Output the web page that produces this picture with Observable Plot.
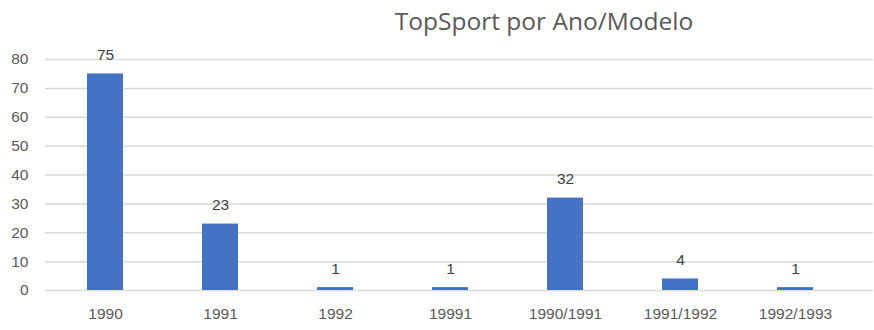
<!DOCTYPE html>
<html>
<head>
<meta charset="utf-8">
<script src="https://cdn.jsdelivr.net/npm/d3@7"></script>
<script src="https://cdn.jsdelivr.net/npm/@observablehq/plot@0.6"></script>
<style>
  html, body { margin: 0; padding: 0; background: #fff; }
  #title { width: 874px; height: 42px; line-height: 42px; box-sizing: border-box; padding-left: 214px;
    text-align: center; font-family: "Open Sans", sans-serif; font-size: 24.5px; color: #595959; }
</style>
</head>
<body>
<div id="title">TopSport por Ano/Modelo</div>
<div id="chart"></div>
<script>
const categories = ["1990", "1991", "1992", "19991", "1990/1991", "1991/1992", "1992/1993"];
const values = [75, 23, 1, 1, 32, 4, 1];
const yTicks = [0, 10, 20, 30, 40, 50, 60, 70, 80];

const data = categories.map((c, i) => ({cat: c, val: values[i]}));

const chart = Plot.plot({
  width: 874,
  height: 288,
  marginTop: 17,
  marginBottom: 40,
  marginLeft: 45,
  marginRight: 1,
  style: {fontFamily: "'Liberation Sans', Arial, sans-serif", fontSize: "15.5px", color: "#595959", background: "#fff"},
  x: {domain: categories, range: [45.2, 854.8], paddingInner: 0.689, paddingOuter: 0.3445, label: null},
  y: {domain: [0, 80], label: null},
  marks: [
    Plot.gridY(yTicks, {stroke: "#d9d9d9", strokeOpacity: 1, strokeWidth: 1.5}),
    Plot.axisY(yTicks, {tickSize: 0, tickPadding: 17, label: null, fill: "#595959", fontSize: 15.5}),
    Plot.axisX({tickSize: 0, tickPadding: 17, label: null, fill: "#595959", fontSize: 15.5}),
    Plot.barY(data, {x: "cat", y: "val", fill: "#4472C4"}),
    Plot.text(data, {x: "cat", y: "val", text: d => String(d.val), dy: -19, fill: "#404040", fontSize: 15.5})
  ]
});
document.getElementById("chart").appendChild(chart);
</script>
</body>
</html>
